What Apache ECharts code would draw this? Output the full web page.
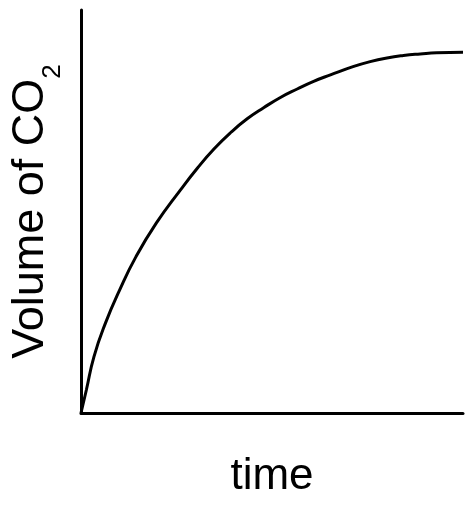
<!DOCTYPE html>
<html>
<head>
<meta charset="utf-8">
<script src="https://cdn.jsdelivr.net/npm/echarts@6/dist/echarts.min.js"></script>
<style>html,body{margin:0;padding:0;background:#fff}#c{width:475px;height:505px}</style>
</head>
<body>
<div id="c"></div>
<script>
const timeValues = [0, 1.4, 3.4, 6.4, 10.1, 14.4, 19.7, 26.0, 30.5, 34.8, 39.2, 43.5, 47.9, 52.2, 56.6, 60.9, 65.3, 71.4, 75.7, 80.1, 84.4, 88.8, 93.1, 100];
const volumeValues = [0, 5.7, 14.0, 22.3, 30.5, 38.8, 47.1, 55.3, 60.8, 65.5, 69.6, 73.0, 75.8, 78.3, 80.4, 82.3, 83.9, 86.0, 87.2, 88.1, 88.7, 89.1, 89.4, 89.5];
const xAxisTitle = 'time';
const yAxisTitle = '{a|Volume of CO}{sub|2}';

const chart = echarts.init(document.getElementById('c'), null, {renderer: 'canvas'});
const fontFam = 'Liberation Sans, Arial, sans-serif';
chart.setOption({
  animation: false,
  backgroundColor: '#fff',
  grid: {left: 80, right: 12, top: 10, bottom: 92},
  xAxis: {
    type: 'value', min: 0, max: 100,
    name: xAxisTitle, nameLocation: 'middle', nameGap: 42,
    nameTextStyle: {fontSize: 44, color: '#000', fontFamily: fontFam},
    axisLine: {show: true, onZero: false, lineStyle: {color: '#000', width: 3}},
    axisTick: {show: false}, axisLabel: {show: false}, splitLine: {show: false}
  },
  yAxis: {
    type: 'value', min: 0, max: 100,
    name: yAxisTitle, nameLocation: 'middle', nameGap: 15, nameRotate: 90,
    nameTextStyle: {
      fontSize: 45, color: '#000', fontFamily: fontFam,
      rich: {
        a: {fontSize: 45, lineHeight: 58, verticalAlign: 'top', color: '#000', fontFamily: fontFam},
        sub: {fontSize: 26, verticalAlign: 'bottom', color: '#000', fontFamily: fontFam}
      }
    },
    axisLine: {show: true, lineStyle: {color: '#000', width: 3}},
    axisTick: {show: false}, axisLabel: {show: false}, splitLine: {show: false}
  },
  series: [{
    type: 'line',
    data: timeValues.map((t, i) => [t, volumeValues[i]]),
    smooth: 0.5,
    showSymbol: false,
    lineStyle: {color: '#000', width: 3},
    z: 1
  }]
});
</script>
</body>
</html>
